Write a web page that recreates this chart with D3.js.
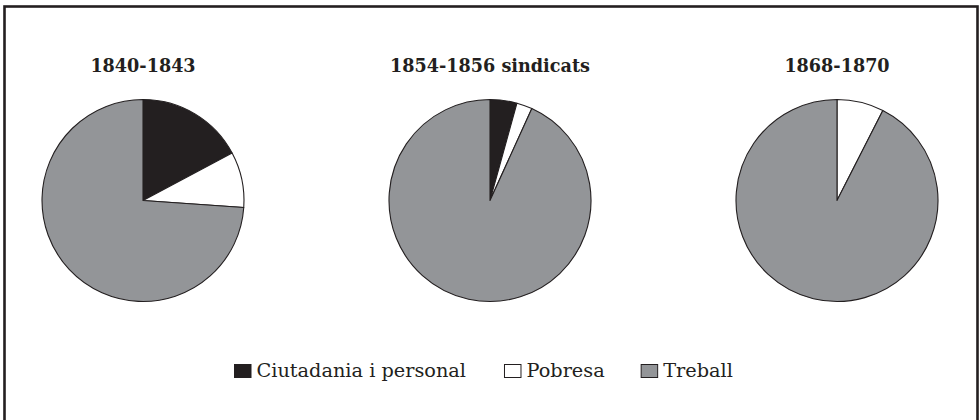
<!DOCTYPE html>
<html>
<head>
<meta charset="utf-8">
<script src="https://cdn.jsdelivr.net/npm/d3@7"></script>
<style>
  html, body { margin: 0; padding: 0; background: #fff; }
  svg { display: block; }
</style>
</head>
<body>
<svg id="chart" width="979" height="420"></svg>
<script>
const periods = ["1840-1843", "1854-1856 sindicats", "1868-1870"];
const categories = ["Ciutadania i personal", "Pobresa", "Treball"];
const ciutadania = [17.2, 4.3, 0];
const pobresa = [8.9, 2.5, 7.5];
const treball = [73.9, 93.2, 92.5];
const seriesValues = [ciutadania, pobresa, treball];
const colors = ["#231f20", "#ffffff", "#939598"];

const svg = d3.select("#chart");
const ink = "#231f20";

svg.append("rect")
  .attr("x", 4.5).attr("y", 6.5)
  .attr("width", 973).attr("height", 440)
  .attr("fill", "none").attr("stroke", ink).attr("stroke-width", 2.6);

const xScale = d3.scalePoint().domain(periods).range([143, 837]);
const cy = 200.5;
const radius = 101;
const color = d3.scaleOrdinal().domain(categories).range(colors);

const pie = d3.pie().sort(null).value(d => d.value);
const arc = d3.arc().innerRadius(0).outerRadius(radius);

periods.forEach((p, i) => {
  const data = categories.map((c, j) => ({ cat: c, value: seriesValues[j][i] }));
  const g = svg.append("g").attr("transform", `translate(${xScale(p)},${cy})`);
  g.selectAll("path")
    .data(pie(data))
    .join("path")
    .attr("d", arc)
    .attr("fill", d => color(d.data.cat))
    .attr("stroke", ink)
    .attr("stroke-width", 1.1)
    .attr("stroke-linejoin", "round");

  svg.append("text")
    .attr("x", xScale(p))
    .attr("y", 72)
    .attr("text-anchor", "middle")
    .attr("font-family", "DejaVu Serif")
    .attr("font-weight", "bold")
    .attr("font-size", 17.6)
    .attr("fill", ink)
    .text(p);
});

// Legend
const legend = svg.append("g");
let lx = 234;
const ly = 377;
const gaps = [38, 36, 0];
categories.forEach((c, i) => {
  legend.append("rect")
    .attr("x", lx + 0.5).attr("y", ly - 12.5)
    .attr("width", 16.5).attr("height", 13)
    .attr("fill", color(c))
    .attr("stroke", ink).attr("stroke-width", 1);
  const t = legend.append("text")
    .attr("x", lx + 22.5)
    .attr("y", ly)
    .attr("font-family", "DejaVu Serif")
    .attr("font-size", 19.3)
    .attr("fill", ink)
    .text(c);
  const w = t.node().getComputedTextLength();
  lx = lx + 22.5 + w + gaps[i];
});
</script>
</body>
</html>
